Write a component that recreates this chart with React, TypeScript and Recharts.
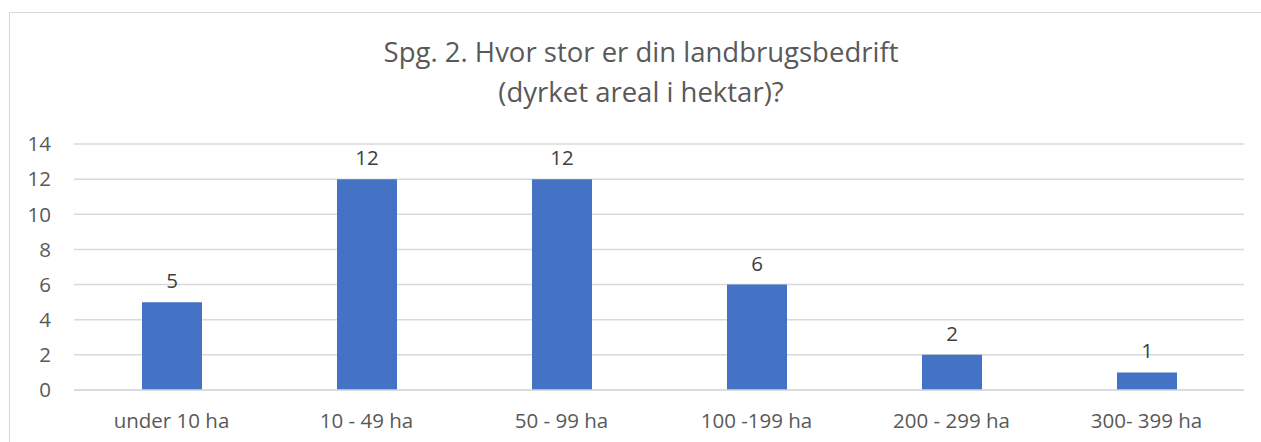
import { BarChart, Bar, XAxis, YAxis, CartesianGrid, LabelList } from "recharts";

const categories = ["under 10 ha", "10 - 49 ha", "50 - 99 ha", "100 -199 ha", "200 - 299 ha", "300- 399 ha"];
const counts = [5, 12, 12, 6, 2, 1];
const yTicks = [0, 2, 4, 6, 8, 10, 12, 14];
const titleLines = ["Spg. 2. Hvor stor er din landbrugsbedrift", "(dyrket areal i hektar)?"];

const data = categories.map((name, i) => ({ name, value: counts[i] }));

const FONT = "'Open Sans', sans-serif";

export default function App() {
  return (
    <div style={{ position: "absolute", left: 0, top: 0, width: 1261, height: 442, background: "#fff", overflow: "hidden", fontFamily: FONT }}>
      {/* chart frame */}
      <div style={{ position: "absolute", left: 9, top: 12, width: 1270, height: 460, border: "1.5px solid #d9d9d9", boxSizing: "border-box" }} />
      <div style={{ position: "absolute", left: 0, top: 32, width: 1282, textAlign: "center", color: "#595959", fontSize: 27.5, lineHeight: "40px" }}>
        {titleLines.map((t) => (
          <div key={t}>{t}</div>
        ))}
      </div>
      <div style={{ position: "absolute", left: 0, top: 0 }}>
        <BarChart width={1261} height={442} data={data} margin={{ top: 144, right: 17, bottom: 14, left: 0 }}>
          <CartesianGrid vertical={false} stroke="#d9d9d9" strokeWidth={1.5} />
          <XAxis
            dataKey="name"
            axisLine={{ stroke: "#d9d9d9", strokeWidth: 1.5 }}
            tickLine={false}
            tickSize={0}
            tickMargin={23}
            height={38}
            interval={0}
            tick={{ fill: "#595959", fontSize: 20.5, fontFamily: FONT }}
          />
          <YAxis
            domain={[0, 14]}
            ticks={yTicks}
            axisLine={false}
            tickLine={false}
            tickSize={0}
            tickMargin={23}
            width={74}
            tick={{ fill: "#595959", fontSize: 20.5, fontFamily: FONT }}
          />
          <Bar dataKey="value" fill="#4472C4" barSize={60} isAnimationActive={false}>
            <LabelList dataKey="value" position="top" offset={14} fill="#404040" fontSize={20.5} fontFamily={FONT} />
          </Bar>
        </BarChart>
      </div>
    </div>
  );
}
